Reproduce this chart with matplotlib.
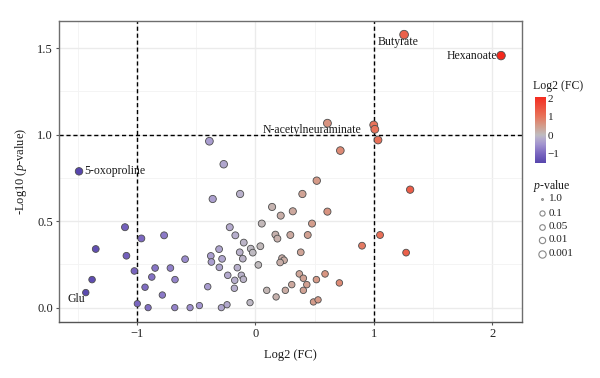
import matplotlib
matplotlib.use("Agg")
import matplotlib.pyplot as plt
import numpy as np
from matplotlib.colors import LinearSegmentedColormap, Normalize

plt.rcParams['font.family'] = ['Liberation Serif', 'DejaVu Serif']
plt.rcParams['mathtext.fontset'] = 'custom'
plt.rcParams['mathtext.rm'] = 'Liberation Serif'
plt.rcParams['mathtext.it'] = 'Liberation Serif:italic'

# ---- data ----
log2fc = [-1.488, -1.100, -1.347, -1.088, -0.962, -0.770, -1.378, -1.431, -1.021, -0.846,
          -0.717, -0.874, -0.678, -0.931, -0.785, -0.996, -0.905, -0.680, -0.551, -0.472,
          -0.593, -0.376, -0.371, -0.402, -0.388, -0.360, -0.267, -0.129, 0.141, 0.214,
          0.316, 0.397, 0.518, 0.717, 0.608, 0.478, 0.054, -0.216, -0.169, -0.098,
          -0.039, -0.022, 0.042, 0.169, 0.186, 0.295, 0.442, -0.306, -0.281, -0.132,
          -0.106, -0.304, -0.152, 0.025, 0.225, 0.242, 0.209, 0.383, -0.233, -0.118,
          -0.101, -0.174, -0.177, -0.287, -0.239, -0.045, 0.096, 0.175, 0.253, 0.307,
          0.371, 0.405, 0.434, 0.405, 0.515, 0.588, 0.709, 0.490, 0.529, 0.900,
          0.999, 1.008, 1.035, 1.306, 1.052, 1.272, 1.255, 2.073, 0.608]
neglog10p = [0.788, 0.465, 0.339, 0.300, 0.400, 0.418, 0.162, 0.087, 0.212, 0.229,
             0.229, 0.177, 0.162, 0.118, 0.073, 0.023, 0.000, 0.000, 0.000, 0.012,
             0.280, 0.299, 0.264, 0.121, 0.962, 0.628, 0.829, 0.657, 0.582, 0.532,
             0.557, 0.657, 0.734, 0.908, 0.555, 0.486, 0.486, 0.465, 0.418, 0.376,
             0.341, 0.318, 0.355, 0.422, 0.399, 0.420, 0.420, 0.338, 0.282, 0.320,
             0.283, 0.233, 0.231, 0.247, 0.286, 0.274, 0.261, 0.320, 0.187, 0.187,
             0.164, 0.158, 0.112, 0.000, 0.017, 0.029, 0.100, 0.062, 0.100, 0.133,
             0.195, 0.170, 0.133, 0.100, 0.162, 0.195, 0.143, 0.033, 0.045, 0.358,
             1.056, 1.031, 0.969, 0.682, 0.420, 0.318, 1.578, 1.457, 1.066]

label_names = ["Butyrate", "Hexanoate", "N-acetylneuraminate", "5-oxoproline", "Glu"]
label_x = [1.035, 2.04, 0.892, -1.443, -1.589]
label_y = [1.536, 1.457, 1.027, 0.788, 0.049]
label_ha = ["left", "right", "right", "left", "left"]

size_breaks = ["1.0", "0.1", "0.05", "0.01", "0.001"]
size_diam_px = [1.8, 5.2, 5.6, 6.3, 7.3]

cbar_ticks = [2, 1, 0, -1]

# ---- figure ----
fig = plt.figure(figsize=(6, 3.78), dpi=100)
ax = fig.add_axes([59/600, 1-322/378, (522-59)/600, (322-21)/378])

vmin, vmax = -1.49, 2.07
anchors = [(-1.49, "#5746ad"), (-1.0, "#7a66c0"), (-0.5, "#a294d0"),
           (-0.15, "#b8b0cc"), (0.0, "#bfbcbf"), (0.5, "#d49c8a"),
           (1.0, "#e8735a"), (2.07, "#f5291d")]
cmap = LinearSegmentedColormap.from_list(
    "fc", [((v - vmin) / (vmax - vmin), c) for v, c in anchors])
norm = Normalize(vmin, vmax)

x = np.array(log2fc)
y = np.array(neglog10p)
diam = 6.3 + 1.5 * y
s = (diam * 0.72) ** 2
ax.scatter(x, y, s=s, c=x, cmap=cmap, norm=norm, edgecolors="#4d4d4d",
           linewidths=0.6, zorder=3)

ax.axvline(-1, color="black", lw=1.0, ls=(0, (3, 2)), zorder=2)
ax.axvline(1, color="black", lw=1.0, ls=(0, (3, 2)), zorder=2)
ax.axhline(1, color="black", lw=1.0, ls=(0, (3, 2)), zorder=2)

for t, tx, ty, ha in zip(label_names, label_x, label_y, label_ha):
    ax.text(tx, ty, t, ha=ha, va="center", fontsize=8.5, color="#1a1a1a", zorder=4)

ax.set_xlim(-1.657, 2.25)
ax.set_ylim(-0.083, 1.657)
ax.set_xticks([-1, 0, 1, 2])
ax.set_xticklabels(["\u22121", "0", "1", "2"])
ax.set_yticks([0, 0.5, 1.0, 1.5])
ax.set_yticklabels(["0.0", "0.5", "1.0", "1.5"])
ax.set_xticks([-1.5, -0.5, 0.5, 1.5], minor=True)
ax.set_yticks([0.25, 0.75, 1.25], minor=True)
ax.grid(True, which="major", color="#ebebeb", lw=1.0, zorder=0)
ax.grid(True, which="minor", color="#f3f3f3", lw=0.6, zorder=0)
ax.set_axisbelow(True)
ax.tick_params(which="major", length=2.5, width=0.8, color="#555555",
               labelsize=9, labelcolor="#222222", pad=2)
ax.tick_params(which="minor", length=0)
for sp in ax.spines.values():
    sp.set_color("#6e6e6e")
    sp.set_linewidth(1.0)
ax.spines["bottom"].set_color("#555555")

ax.set_xlabel("Log2 (FC)", fontsize=9, labelpad=6, color="#1a1a1a")
ax.set_ylabel("-Log10 ($p$-value)", fontsize=9, labelpad=6, color="#1a1a1a")

# ---- colour legend ----
fig.text(533/600, 1-86/378, "Log2 (FC)", fontsize=8.5, ha="left", va="center", color="#1a1a1a")
cax = fig.add_axes([535/600, 1-163/378, 10/600, 66/378])
grad = np.linspace(vmin, vmax, 256).reshape(-1, 1)
cax.imshow(grad, aspect="auto", cmap=cmap, norm=norm, origin="lower",
           extent=[0, 1, vmin, vmax])
cax.set_xticks([])
cax.yaxis.tick_right()
cax.set_yticks(cbar_ticks)
cax.set_yticklabels(["2", "1", "0", "\u22121"])
cax.tick_params(axis="y", length=0, labelsize=8, pad=2, labelcolor="#222222")
for sp in cax.spines.values():
    sp.set_visible(False)

# ---- size legend ----
fig.text(533/600, 1-186/378, "$p$-value", fontsize=8.5, ha="left", va="center", color="#1a1a1a")
ys_px = [198.5, 213, 226.5, 240, 253.5]
lax = fig.add_axes([0, 0, 1, 1], facecolor="none")
lax.set_xlim(0, 600)
lax.set_ylim(378, 0)
lax.axis("off")
for lab, d, yp in zip(size_breaks, size_diam_px, ys_px):
    lax.scatter([542], [yp], s=(d * 0.72) ** 2, facecolors="white",
                edgecolors="#888888", linewidths=0.8)
    lax.text(549, yp, lab, fontsize=8, ha="left", va="center", color="#222222")

fig.savefig("out.png", dpi=100)
